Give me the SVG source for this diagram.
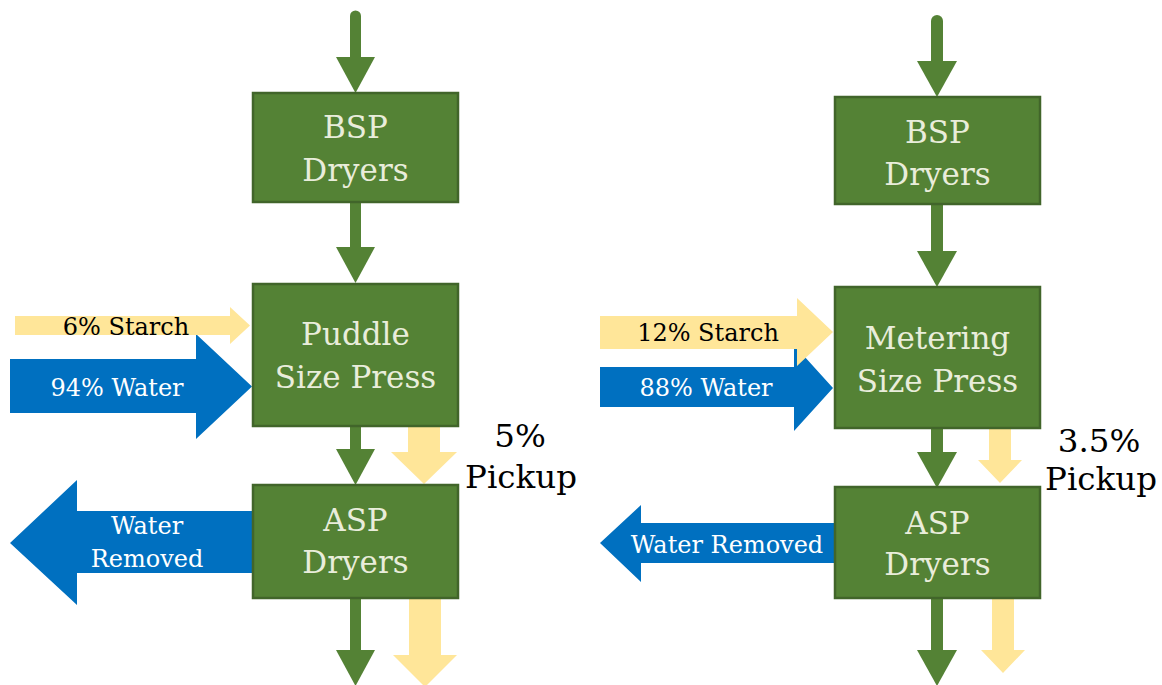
<svg xmlns="http://www.w3.org/2000/svg" width="1162" height="685" viewBox="0 0 1162 685">
  <style>
    .box { fill: #548235; stroke: #41652a; stroke-width: 2.5; }
    .boxtxt { font-family: "DejaVu Serif", "Liberation Serif", serif; font-size: 31px; fill: #e9eddb; text-anchor: middle; }
    .flow { stroke: #548235; stroke-width: 11; fill: none; marker-end: url(#head); }
    .flowR { stroke: #548235; stroke-width: 12; fill: none; marker-end: url(#headR); }
    .starch { fill: #ffe699; }
    .water { fill: #0070c0; }
    .lbl { font-family: "DejaVu Serif", "Liberation Serif", serif; font-size: 24px; }
    .big { font-family: "DejaVu Serif", "Liberation Serif", serif; font-size: 32.5px; fill: #000; text-anchor: middle; }
  </style>
  <defs>
    <marker id="head" markerUnits="userSpaceOnUse" markerWidth="40" markerHeight="40" viewBox="0 -20 36 40" refX="0" refY="0" orient="auto">
      <path d="M0,-19.5 L36,0 L0,19.5 z" fill="#548235"/>
    </marker>
    <marker id="headR" markerUnits="userSpaceOnUse" markerWidth="42" markerHeight="42" viewBox="0 -21 36 42" refX="0" refY="0" orient="auto">
      <path d="M0,-20 L36,0 L0,20 z" fill="#548235"/>
    </marker>
  </defs>

  <!-- process line connectors -->
  <g id="connectors">
    <!-- left line: puddle size press -->
    <path class="flow" d="M355.5,16 V57" stroke-linecap="round"/>
    <path class="flow" d="M355.5,202 V247"/>
    <path class="flow" d="M355.5,426 V449"/>
    <path class="flow" d="M355.5,598 V650"/>
    <!-- right line: metering size press -->
    <path class="flowR" d="M937,21 V61" stroke-linecap="round"/>
    <path class="flowR" d="M937,204 V251"/>
    <path class="flowR" d="M937,428 V452"/>
    <path class="flowR" d="M937,598 V650"/>

    <!-- left feeds and outputs -->
    <polygon class="water" points="10,359 196,359 196,334 252,386.5 196,439 196,413 10,413"/>
    <polygon class="starch" points="15,316 230,316 230,307 250,325.5 230,344 230,335 15,335"/>
    <polygon class="starch" points="408,426 440,426 440,452 457,452 424,484 391,452 408,452"/>
    <polygon class="starch" points="409,598 441,598 441,655 457,655 425,687 393,655 409,655"/>
    <polygon class="water" points="10,543 77,480 77,511 254,511 254,573 77,573 77,605"/>

    <!-- right feeds and outputs -->
    <polygon class="water" points="600,367 794,367 794,345 833,388 794,431 794,407 600,407"/>
    <polygon class="starch" points="600,316 797,316 797,298 833,332 797,366 797,349 600,349"/>
    <polygon class="starch" points="989,428 1011,428 1011,460 1022,460 1000,483 978,460 989,460"/>
    <polygon class="starch" points="992,598 1014,598 1014,650 1025,650 1003,673 981,650 992,650"/>
    <polygon class="water" points="600,543 641,505 641,523 836,523 836,563 641,563 641,582"/>
  </g>

  <!-- flow labels -->
  <g id="labels">
    <text class="lbl" x="126" y="335" text-anchor="middle" fill="#000">6% Starch</text>
    <text class="lbl" x="117" y="396" text-anchor="middle" fill="#fff">94% Water</text>
    <text class="lbl" x="147" y="534" text-anchor="middle" fill="#fff">Water</text>
    <text class="lbl" x="147" y="567" text-anchor="middle" fill="#fff">Removed</text>
    <text class="big" x="520" y="447">5%</text>
    <text class="big" x="521" y="488">Pickup</text>

    <text class="lbl" x="708" y="341" text-anchor="middle" fill="#000">12% Starch</text>
    <text class="lbl" x="706" y="396" text-anchor="middle" fill="#fff">88% Water</text>
    <text class="lbl" x="727" y="553" text-anchor="middle" fill="#fff">Water Removed</text>
    <text class="big" x="1099" y="452">3.5%</text>
    <text class="big" x="1101" y="490">Pickup</text>
  </g>

  <!-- left line nodes -->
  <g id="bsp-left">
    <rect class="box" x="253" y="93" width="205" height="109"/>
    <text class="boxtxt" x="355.5" y="138">BSP</text>
    <text class="boxtxt" x="355.5" y="181">Dryers</text>
  </g>
  <g id="puddle-press">
    <rect class="box" x="253" y="284" width="205" height="142"/>
    <text class="boxtxt" x="355.5" y="345">Puddle</text>
    <text class="boxtxt" x="355.5" y="388">Size Press</text>
  </g>
  <g id="asp-left">
    <rect class="box" x="253" y="485" width="205" height="113"/>
    <text class="boxtxt" x="355.5" y="531">ASP</text>
    <text class="boxtxt" x="355.5" y="573">Dryers</text>
  </g>

  <!-- right line nodes -->
  <g id="bsp-right">
    <rect class="box" x="835" y="97" width="205" height="107"/>
    <text class="boxtxt" x="937.5" y="143">BSP</text>
    <text class="boxtxt" x="937.5" y="185">Dryers</text>
  </g>
  <g id="metering-press">
    <rect class="box" x="835" y="287" width="205" height="141"/>
    <text class="boxtxt" x="937.5" y="349">Metering</text>
    <text class="boxtxt" x="937.5" y="392">Size Press</text>
  </g>
  <g id="asp-right">
    <rect class="box" x="835" y="487" width="205" height="111"/>
    <text class="boxtxt" x="937.5" y="534">ASP</text>
    <text class="boxtxt" x="937.5" y="575">Dryers</text>
  </g>
</svg>
